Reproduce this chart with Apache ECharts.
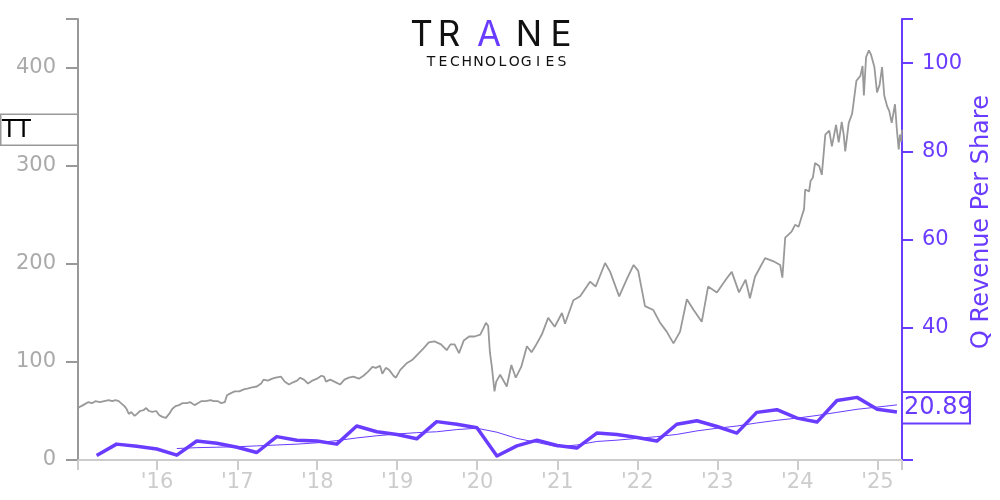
<!DOCTYPE html>
<html>
<head>
<meta charset="utf-8">
<script src="https://cdn.jsdelivr.net/npm/echarts@6/dist/echarts.min.js"></script>
<style>
html,body{margin:0;padding:0;background:#fff;}
#main{width:1000px;height:500px;}
</style>
</head>
<body>
<div id="main"></div>
<script>
// ---- data ----
const priceDates = [
'2015-01-05','2015-01-20','2015-02-05','2015-02-20','2015-03-10','2015-03-25','2015-04-15','2015-05-05','2015-05-25','2015-06-10',
'2015-06-25','2015-07-10','2015-07-20','2015-08-05','2015-08-15','2015-08-25','2015-09-05','2015-09-20','2015-10-01','2015-10-15',
'2015-11-01','2015-11-12','2015-11-25','2015-12-10','2015-12-28','2016-01-10','2016-01-25','2016-02-10','2016-02-25','2016-03-10',
'2016-03-25','2016-04-10','2016-04-25','2016-05-15','2016-06-01','2016-06-20','2016-07-05','2016-07-20','2016-08-10','2016-09-01',
'2016-09-15','2016-10-05','2016-10-20','2016-11-05','2016-11-15','2016-12-01','2016-12-20','2017-01-10','2017-01-31','2017-02-20',
'2017-03-10','2017-03-31','2017-04-20','2017-05-01','2017-05-20','2017-06-10','2017-06-25','2017-07-20','2017-08-05','2017-08-25',
'2017-09-10','2017-10-01','2017-10-15','2017-11-01','2017-11-20','2017-12-10','2017-12-31','2018-01-20','2018-02-01','2018-02-10',
'2018-03-01','2018-03-20','2018-04-15','2018-05-05','2018-05-25','2018-06-15','2018-07-10','2018-07-31','2018-08-20','2018-09-10',
'2018-09-25','2018-10-15','2018-10-25','2018-11-10','2018-11-25','2018-12-15','2018-12-26','2019-01-15','2019-02-15','2019-03-10',
'2019-04-10','2019-05-01','2019-05-25','2019-06-20','2019-07-20','2019-08-15','2019-09-01','2019-09-20','2019-10-10','2019-11-01',
'2019-11-25','2019-12-20','2020-01-15','2020-01-31','2020-02-10','2020-02-20','2020-02-28','2020-03-08','2020-03-20','2020-03-28',
'2020-04-15','2020-05-15','2020-06-05','2020-06-25','2020-07-20','2020-08-15','2020-09-05','2020-09-22','2020-10-22','2020-11-20',
'2020-12-20','2021-01-22','2021-02-05','2021-03-15','2021-04-15','2021-05-30','2021-06-25','2021-08-07','2021-08-30','2021-10-10',
'2021-11-15','2021-12-15','2022-01-05','2022-02-05','2022-03-15','2022-04-15','2022-05-15','2022-06-15','2022-07-15','2022-08-15',
'2022-09-15','2022-10-22','2022-11-20','2022-12-30','2023-02-15','2023-03-08','2023-04-10','2023-05-10','2023-05-30','2023-06-22',
'2023-08-07','2023-09-12','2023-10-15','2023-10-25','2023-11-07','2023-12-06','2023-12-22','2024-01-07','2024-01-22','2024-02-01',
'2024-02-06','2024-02-24','2024-03-02','2024-03-12','2024-03-22','2024-04-10','2024-04-22','2024-05-08','2024-05-26','2024-06-07',
'2024-06-26','2024-07-08','2024-07-22','2024-07-31','2024-08-07','2024-08-23','2024-09-07','2024-09-13','2024-09-27','2024-10-15',
'2024-10-25','2024-10-31','2024-11-10','2024-11-23','2024-12-02','2024-12-18','2024-12-30','2025-01-11','2025-01-22','2025-02-01',
'2025-02-14','2025-02-24','2025-03-07','2025-03-22','2025-03-31','2025-04-08','2025-04-14','2025-04-20','2025-04-23'
];
const priceValues = [
53,55,57,59,58,60,59,60,61,60,
61,60,58,55,52,47,49,45,47,50,
51,53,50,49,50,46,44,43,47,52,
55,56,58,58,59,56,58,60,60,61,
60,60,58,59,66,68,70,70,72,73,
74,75,78,82,81,83,84,85,80,77,
79,81,84,82,78,81,83,86,85,80,
82,80,77,82,84,85,83,86,90,95,
94,96,88,94,92,86,84,92,99,102,
109,114,120,121,118,112,118,118,109,122,
126,126,128,135,140,137,110,95,70,80,
87,75,97,84,95,116,110,116,128,145,
136,150,139,163,167,182,177,201,192,167,
185,199,193,157,153,140,131,119,131,164,
153,141,177,171,186,192,171,184,165,187,
206,203,199,186,227,233,240,238,249,256,
276,274,285,288,303,300,291,332,336,320,
342,324,345,332,315,344,353,363,387,392,
402,372,411,418,414,401,375,383,401,372,
361,356,344,363,336,317,332,325,337
];
const quarterDates = [
'2015-03-31','2015-06-30','2015-09-30','2015-12-31','2016-03-31','2016-06-30','2016-09-30','2016-12-31',
'2017-03-31','2017-06-30','2017-09-30','2017-12-31','2018-03-31','2018-06-30','2018-09-30','2018-12-31',
'2019-03-31','2019-06-30','2019-09-30','2019-12-31','2020-03-31','2020-06-30','2020-09-30','2020-12-31',
'2021-03-31','2021-06-30','2021-09-30','2021-12-31','2022-03-31','2022-06-30','2022-09-30','2022-12-31',
'2023-03-31','2023-06-30','2023-09-30','2023-12-31','2024-03-31','2024-06-30','2024-09-30','2024-12-31',
'2025-03-31'
];
const revenueValues = [
11.0,13.6,13.1,12.5,11.1,14.3,13.8,12.9,
11.7,15.3,14.5,14.3,13.6,17.7,16.4,15.8,
14.8,18.7,18.1,17.3,10.9,13.2,14.5,13.3,
12.7,16.1,15.8,15.1,14.3,18.1,18.9,17.6,
16.1,20.8,21.4,19.5,18.6,23.5,24.2,21.5,
20.89
];
const avgDates = quarterDates.slice(4);
const avgValues = [
12.6,12.8,12.9,13.0,13.2,13.4,13.6,13.9,
14.4,15.0,15.5,15.9,16.2,16.4,16.9,17.2,
16.3,14.9,14.0,13.0,13.4,14.2,14.5,14.9,
15.3,15.8,16.6,17.2,17.7,18.4,19.0,19.5,
20.1,20.8,21.5,22.0,22.5
];
const xTickYears = [2016,2017,2018,2019,2020,2021,2022,2023,2024,2025];
const xTickLabels = ["'16","'17","'18","'19","'20","'21","'22","'23","'24","'25"];
const leftTicks = [0,100,200,300,400];
const rightTicks = [40,60,80,100];
const lastRevenueLabel = '20.89';
const tickerLabel = 'TT';

// ---- styles ----
const PURPLE = '#6a3cff';
const FONT = 'DejaVu Sans';
function ts(s){ const p = s.split('-').map(Number); return new Date(p[0], p[1]-1, p[2]).getTime(); }
const xMin = ts('2015-01-05');
const xMax = ts('2025-04-23');
const yearTs = xTickYears.map(y => new Date(y,0,1).getTime());
const labelOf = {};
yearTs.forEach((t,i)=>{ labelOf[t] = xTickLabels[i]; });

const chart = echarts.init(document.getElementById('main'), null, {renderer:'canvas'});
const option = {
  animation:false,
  backgroundColor:'#fff',
  textStyle:{fontFamily:FONT},
  grid:{left:78, right:98, top:19, bottom:40, containLabel:false},
  xAxis:{
    type:'value', min:xMin, max:xMax, scale:true,
    axisLine:{show:true, lineStyle:{color:'#cccccc', width:2}},
    axisTick:{show:true, length:10, lineStyle:{color:'#cccccc', width:2}, customValues:[xMin].concat(yearTs,[xMax])},
    axisLabel:{show:true, customValues:yearTs, color:'#cccccc', fontSize:21, fontFamily:FONT, margin:12,
      formatter:function(v){ return labelOf[v] !== undefined ? labelOf[v] : "'" + String(new Date(v).getFullYear()).slice(2); }},
    splitLine:{show:false}
  },
  yAxis:[
    {type:'value', position:'left', min:0, max:450,
      axisLine:{show:true, lineStyle:{color:'#999999', width:2}},
      axisTick:{show:true, length:12, lineStyle:{color:'#999999', width:2}, customValues:leftTicks.concat([450])},
      axisLabel:{show:true, customValues:leftTicks, color:'#aaaaaa', fontSize:21, fontFamily:FONT, margin:22},
      splitLine:{show:false}},
    {type:'value', position:'right', min:10, max:110,
      axisLine:{show:true, lineStyle:{color:PURPLE, width:2}},
      axisTick:{show:true, length:11, lineStyle:{color:PURPLE, width:2}, customValues:[10,20,40,60,80,100,110]},
      axisLabel:{show:true, customValues:rightTicks, color:PURPLE, fontSize:21, fontFamily:FONT, margin:20},
      splitLine:{show:false}}
  ],
  series:[
    {type:'line', name:'price', yAxisIndex:0, showSymbol:false, symbol:'none',
      data:priceDates.map((d,i)=>[ts(d), priceValues[i]]),
      lineStyle:{color:'#999999', width:1.8}, z:2},
    {type:'line', name:'avg', yAxisIndex:1, showSymbol:false, symbol:'none',
      data:avgDates.map((d,i)=>[ts(d), avgValues[i]]),
      lineStyle:{color:PURPLE, width:1}, z:3},
    {type:'line', name:'rev', yAxisIndex:1, showSymbol:false, symbol:'none',
      data:quarterDates.map((d,i)=>[ts(d), revenueValues[i]]),
      lineStyle:{color:PURPLE, width:3.5, join:'round'}, z:4}
  ]
};
chart.setOption(option);

// ---- annotations ----
const yP = chart.convertToPixel({yAxisIndex:0}, priceValues[priceValues.length-1]);
const yR = chart.convertToPixel({yAxisIndex:1}, revenueValues[revenueValues.length-1]);
const logoLetters = [['T',421.5,'#111'],['R',449,'#111'],['A',489,PURPLE],['N',529,'#111'],['E',561,'#111']];
const sub = 'TECHNOLOGIES'.split('');
const graphics = [];
logoLetters.forEach(l => graphics.push({type:'text', x:l[1], y:35, z:100,
  style:{text:l[0], fontSize:35, fontFamily:'Inter, DejaVu Sans', fontWeight:400, fill:l[2], align:'center', verticalAlign:'middle'}}));
sub.forEach((c,i) => graphics.push({type:'text', x:431 + i*11.9, y:62, z:100,
  style:{text:c, fontSize:14, fontFamily:'DejaVu Sans', fill:'#111', align:'center', verticalAlign:'middle'}}));
graphics.push({type:'rect', z:100, shape:{x:0.75, y:yP-15.5, width:77, height:31}, style:{fill:'#fff', stroke:'#999', lineWidth:1.5}});
graphics.push({type:'text', z:101, x:2, y:yP+1, style:{text:tickerLabel, fontSize:24, fontFamily:FONT, fill:'#000', align:'left', verticalAlign:'middle'}});
graphics.push({type:'rect', z:100, shape:{x:902, y:yR-20, width:68, height:31.5}, style:{fill:'#fff', stroke:PURPLE, lineWidth:2}});
graphics.push({type:'text', z:101, x:904, y:yR-4, style:{text:lastRevenueLabel, fontSize:24, fontFamily:FONT, fill:PURPLE, align:'left', verticalAlign:'middle'}});
graphics.push({type:'text', z:100, x:982, y:222, rotation:Math.PI/2,
  style:{text:'Q Revenue Per Share', fontSize:24, fontFamily:FONT, fill:PURPLE, align:'center', verticalAlign:'middle'}});
chart.setOption({graphic:graphics});
</script>
</body>
</html>
